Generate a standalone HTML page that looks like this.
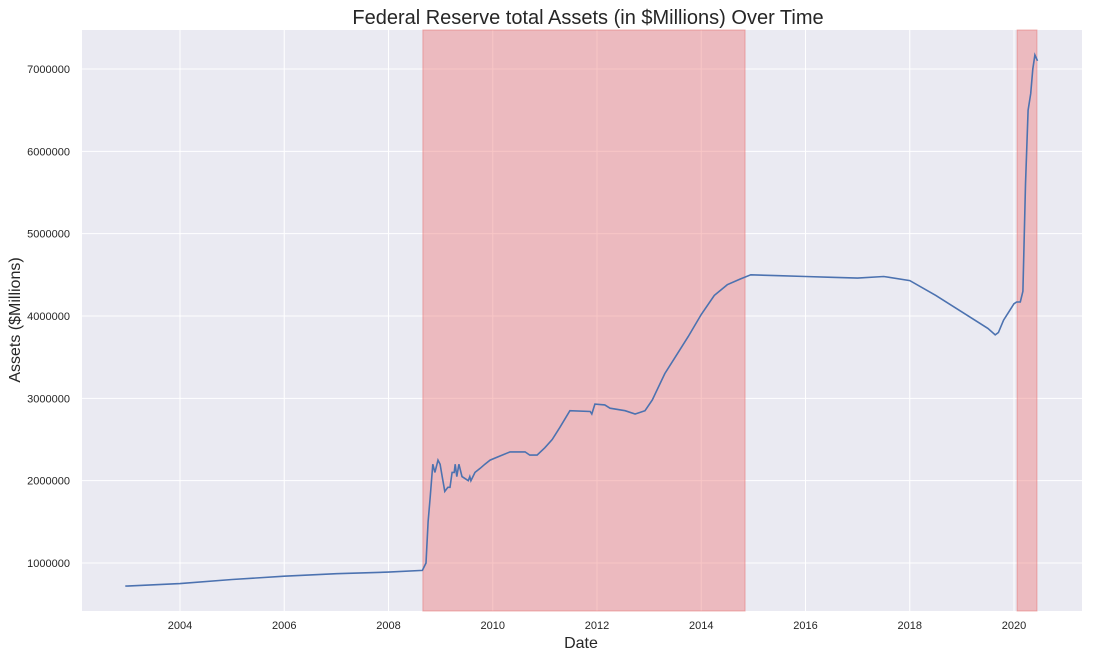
<!DOCTYPE html>
<html><head><meta charset="utf-8"><style>
body{margin:0;background:#fff;}
svg{font-family:"Liberation Sans","DejaVu Sans",sans-serif;display:block}
</style></head><body>
<svg id="chart" width="1095" height="658">
<rect x="82" y="30" width="1000" height="581" fill="#eaeaf2"/>
<g id="grid"></g>
<g id="shade"></g>
<g id="xticks"></g>
<g id="yticks"></g>
<path id="line" fill="none" stroke="#4c72b0" stroke-width="1.6"/>
<text x="588" y="24" text-anchor="middle" font-size="20" fill="#262626">Federal Reserve total Assets (in $Millions) Over Time</text>
<text x="581" y="648" text-anchor="middle" font-size="16" fill="#262626">Date</text>
<text transform="translate(20,320) rotate(-90)" text-anchor="middle" font-size="16" fill="#262626">Assets ($Millions)</text>
</svg>
<script>
const dates=[2002.95,2004,2005,2006,2007,2008,2008.65,2008.72,2008.76,2008.8,2008.85,2008.89,2008.95,2008.99,2009.03,2009.08,2009.14,2009.18,2009.22,2009.26,2009.28,2009.31,2009.35,2009.41,2009.53,2009.56,2009.58,2009.66,2009.76,2009.85,2009.95,2010.14,2010.33,2010.62,2010.71,2010.85,2011.0,2011.14,2011.29,2011.48,2011.87,2011.9,2011.96,2012.15,2012.25,2012.54,2012.73,2012.92,2013.06,2013.3,2013.5,2013.75,2014,2014.25,2014.5,2014.75,2014.95,2015.5,2016,2016.5,2017,2017.5,2018,2018.5,2019,2019.5,2019.64,2019.7,2019.8,2019.9,2020.0,2020.05,2020.12,2020.17,2020.22,2020.27,2020.32,2020.36,2020.4,2020.45];
const assets=[0.72,0.75,0.80,0.84,0.87,0.89,0.91,1.0,1.5,1.8,2.2,2.1,2.25,2.2,2.05,1.87,1.92,1.92,2.1,2.1,2.2,2.05,2.2,2.05,2.0,2.05,2.0,2.1,2.15,2.2,2.25,2.3,2.35,2.35,2.31,2.31,2.4,2.5,2.65,2.85,2.84,2.81,2.93,2.92,2.88,2.85,2.81,2.85,2.98,3.3,3.5,3.75,4.02,4.25,4.38,4.45,4.5,4.49,4.48,4.47,4.46,4.48,4.43,4.25,4.05,3.85,3.77,3.8,3.95,4.05,4.15,4.17,4.17,4.3,5.6,6.5,6.7,7.0,7.17,7.1];
const recessions=[[2008.66,2014.84],[2020.06,2020.44]];
const xTickYears=[2004,2006,2008,2010,2012,2014,2016,2018,2020];
const yTickVals=[1000000,2000000,3000000,4000000,5000000,6000000,7000000];
const X=v=>180+(v-2004)*52.125;
const Y=m=>563-(m-1)*82.33;
const ns="http://www.w3.org/2000/svg";
function mk(tag,attrs,parent){const e=document.createElementNS(ns,tag);for(const k in attrs)e.setAttribute(k,attrs[k]);document.getElementById(parent).appendChild(e);return e;}
xTickYears.forEach(y=>{
  const l=mk('line',{x1:X(y),x2:X(y),y1:30,y2:611,stroke:'#fff','stroke-width':1},'grid');
  
  
  const t=mk('text',{x:X(y),y:629,'text-anchor':'middle','font-size':11,fill:'#262626'},'xticks');
  t.textContent=y;
  
  
});
yTickVals.forEach(v=>{
  const l=mk('line',{x1:82,x2:1082,y1:Y(v/1e6),y2:Y(v/1e6),stroke:'#fff','stroke-width':1},'grid');
  
  
  const t=mk('text',{x:70,y:Y(v/1e6)+4,'text-anchor':'end','font-size':11,fill:'#262626'},'yticks');
  t.textContent=v;
  
  
});
recessions.forEach(r=>{
  const s=mk('rect',{x:X(r[0]),y:30,width:X(r[1])-X(r[0]),height:581,fill:'rgba(240,128,128,0.45)',stroke:'rgba(230,110,110,0.5)'},'shade');
  
  
});
document.getElementById('line').setAttribute('d',dates.map((d,i)=>(i?'L':'M')+X(d).toFixed(1)+','+Y(assets[i]).toFixed(1)).join(''));
</script>
</body></html>
